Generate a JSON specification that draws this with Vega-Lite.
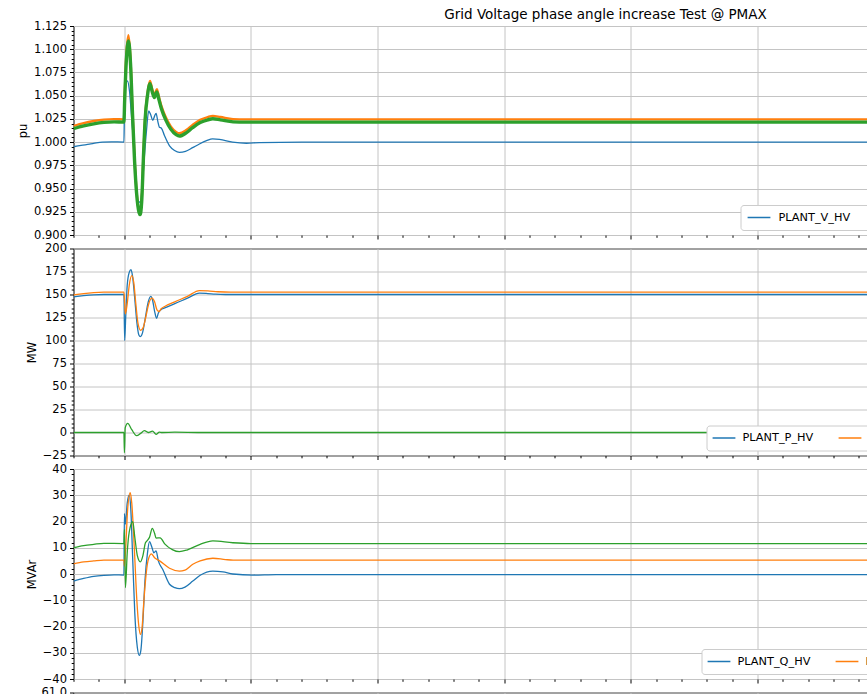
{
  "$schema": "https://vega.github.io/schema/vega-lite/v6.json",
  "padding": {"left": 16.5, "top": 7, "right": 0, "bottom": 0},
  "background": "white",
  "spacing": 0.5,
  "config": {
    "font": "DejaVu Sans",
    "view": {"stroke": "#000", "strokeWidth": 1},
    "axis": {"domain": false, "tickColor": "#000", "labelColor": "#000", "labelFontSize": 11.5, "labelFont": "DejaVu Sans", "titleFont": "DejaVu Sans", "titleFontSize": 11.5, "titleFontWeight": "normal", "titleColor": "#000", "gridColor": "#c4c4c4", "gridWidth": 1, "labelPadding": 3, "tickWidth": 1, "labelOverlap": false, "titlePadding": 5},
    "legend": {"orient": "bottom-right", "direction": "horizontal", "columns": 3, "offset": 5, "padding": 5, "strokeColor": "#cccccc", "fillColor": "#ffffff", "cornerRadius": 3, "labelFontSize": 11.3, "labelColor": "#000", "labelFont": "DejaVu Sans", "symbolType": "stroke", "symbolSize": 520, "symbolStrokeWidth": 1.3, "labelOffset": 6, "columnPadding": 24, "labelLimit": 400, "clipHeight": 15},
    "title": {"font": "DejaVu Sans", "fontSize": 13.5, "fontWeight": "normal", "color": "#000", "anchor": "middle"}
  },
  "resolve": {"scale": {"color": "independent", "strokeWidth": "independent", "y": "independent"}, "legend": {"color": "independent"}},
  "datasets": {
    "v": [
      {"t": -2, "y": 0.995, "s": "PLANT_V_HV"}, {"t": -1.7, "y": 0.9965, "s": "PLANT_V_HV"}, {"t": -1.37, "y": 0.9978, "s": "PLANT_V_HV"}, {"t": -1.1, "y": 0.9992, "s": "PLANT_V_HV"}, {"t": -0.86, "y": 1.0, "s": "PLANT_V_HV"}, {"t": -0.5, "y": 1.0003, "s": "PLANT_V_HV"}, {"t": -0.01, "y": 1.0, "s": "PLANT_V_HV"}, {"t": 0.01, "y": 1.035, "s": "PLANT_V_HV"}, {"t": 0.05, "y": 1.058, "s": "PLANT_V_HV"}, {"t": 0.13, "y": 1.066, "s": "PLANT_V_HV"}, {"t": 0.21, "y": 1.055, "s": "PLANT_V_HV"}, {"t": 0.31, "y": 1.02, "s": "PLANT_V_HV"}, {"t": 0.41, "y": 0.987, "s": "PLANT_V_HV"}, {"t": 0.49, "y": 0.95, "s": "PLANT_V_HV"}, {"t": 0.56, "y": 0.935, "s": "PLANT_V_HV"}, {"t": 0.64, "y": 0.936, "s": "PLANT_V_HV"}, {"t": 0.72, "y": 0.955, "s": "PLANT_V_HV"}, {"t": 0.8, "y": 0.985, "s": "PLANT_V_HV"}, {"t": 0.88, "y": 1.012, "s": "PLANT_V_HV"}, {"t": 0.97, "y": 1.0335, "s": "PLANT_V_HV"}, {"t": 1.04, "y": 1.03, "s": "PLANT_V_HV"}, {"t": 1.13, "y": 1.0235, "s": "PLANT_V_HV"}, {"t": 1.2, "y": 1.028, "s": "PLANT_V_HV"}, {"t": 1.26, "y": 1.031, "s": "PLANT_V_HV"}, {"t": 1.33, "y": 1.022, "s": "PLANT_V_HV"}, {"t": 1.39, "y": 1.016, "s": "PLANT_V_HV"}, {"t": 1.47, "y": 1.015, "s": "PLANT_V_HV"}, {"t": 1.59, "y": 1.007, "s": "PLANT_V_HV"}, {"t": 1.79, "y": 0.996, "s": "PLANT_V_HV"}, {"t": 1.99, "y": 0.991, "s": "PLANT_V_HV"}, {"t": 2.18, "y": 0.989, "s": "PLANT_V_HV"}, {"t": 2.42, "y": 0.99, "s": "PLANT_V_HV"}, {"t": 2.7, "y": 0.994, "s": "PLANT_V_HV"}, {"t": 2.97, "y": 0.998, "s": "PLANT_V_HV"}, {"t": 3.25, "y": 1.0015, "s": "PLANT_V_HV"}, {"t": 3.49, "y": 1.0035, "s": "PLANT_V_HV"}, {"t": 3.76, "y": 1.003, "s": "PLANT_V_HV"}, {"t": 4.28, "y": 1.0, "s": "PLANT_V_HV"}, {"t": 4.83, "y": 0.9988, "s": "PLANT_V_HV"}, {"t": 5.34, "y": 0.9995, "s": "PLANT_V_HV"}, {"t": 7, "y": 1.0, "s": "PLANT_V_HV"}, {"t": 40, "y": 1.0, "s": "PLANT_V_HV"},
      {"t": -2, "y": 1.0175, "s": "INV1_V_TERMS"}, {"t": -1.6, "y": 1.0205, "s": "INV1_V_TERMS"}, {"t": -1.2, "y": 1.0227, "s": "INV1_V_TERMS"}, {"t": -0.8, "y": 1.0242, "s": "INV1_V_TERMS"}, {"t": -0.4, "y": 1.0248, "s": "INV1_V_TERMS"}, {"t": -0.01, "y": 1.0245, "s": "INV1_V_TERMS"}, {"t": 0.02, "y": 1.05, "s": "INV1_V_TERMS"}, {"t": 0.08, "y": 1.092, "s": "INV1_V_TERMS"}, {"t": 0.17, "y": 1.115, "s": "INV1_V_TERMS"}, {"t": 0.25, "y": 1.09, "s": "INV1_V_TERMS"}, {"t": 0.33, "y": 1.033, "s": "INV1_V_TERMS"}, {"t": 0.41, "y": 0.983, "s": "INV1_V_TERMS"}, {"t": 0.49, "y": 0.947, "s": "INV1_V_TERMS"}, {"t": 0.59, "y": 0.925, "s": "INV1_V_TERMS"}, {"t": 0.63, "y": 0.923, "s": "INV1_V_TERMS"}, {"t": 0.69, "y": 0.937, "s": "INV1_V_TERMS"}, {"t": 0.77, "y": 0.993, "s": "INV1_V_TERMS"}, {"t": 0.83, "y": 1.028, "s": "INV1_V_TERMS"}, {"t": 0.92, "y": 1.053, "s": "INV1_V_TERMS"}, {"t": 1.02, "y": 1.066, "s": "INV1_V_TERMS"}, {"t": 1.1, "y": 1.058, "s": "INV1_V_TERMS"}, {"t": 1.19, "y": 1.051, "s": "INV1_V_TERMS"}, {"t": 1.29, "y": 1.057, "s": "INV1_V_TERMS"}, {"t": 1.37, "y": 1.049, "s": "INV1_V_TERMS"}, {"t": 1.47, "y": 1.039, "s": "INV1_V_TERMS"}, {"t": 1.64, "y": 1.027, "s": "INV1_V_TERMS"}, {"t": 1.84, "y": 1.017, "s": "INV1_V_TERMS"}, {"t": 2.05, "y": 1.011, "s": "INV1_V_TERMS"}, {"t": 2.18, "y": 1.0095, "s": "INV1_V_TERMS"}, {"t": 2.45, "y": 1.013, "s": "INV1_V_TERMS"}, {"t": 2.7, "y": 1.0185, "s": "INV1_V_TERMS"}, {"t": 3.0, "y": 1.024, "s": "INV1_V_TERMS"}, {"t": 3.3, "y": 1.027, "s": "INV1_V_TERMS"}, {"t": 3.5, "y": 1.0282, "s": "INV1_V_TERMS"}, {"t": 3.8, "y": 1.027, "s": "INV1_V_TERMS"}, {"t": 4.3, "y": 1.0248, "s": "INV1_V_TERMS"}, {"t": 4.8, "y": 1.0245, "s": "INV1_V_TERMS"}, {"t": 40, "y": 1.0245, "s": "INV1_V_TERMS"},
      {"t": -2, "y": 1.0145, "s": "INV2_V_TERM"}, {"t": -1.6, "y": 1.0175, "s": "INV2_V_TERM"}, {"t": -1.2, "y": 1.0197, "s": "INV2_V_TERM"}, {"t": -0.8, "y": 1.0212, "s": "INV2_V_TERM"}, {"t": -0.4, "y": 1.0218, "s": "INV2_V_TERM"}, {"t": -0.01, "y": 1.0215, "s": "INV2_V_TERM"}, {"t": 0.02, "y": 1.045, "s": "INV2_V_TERM"}, {"t": 0.08, "y": 1.085, "s": "INV2_V_TERM"}, {"t": 0.17, "y": 1.109, "s": "INV2_V_TERM"}, {"t": 0.25, "y": 1.085, "s": "INV2_V_TERM"}, {"t": 0.33, "y": 1.03, "s": "INV2_V_TERM"}, {"t": 0.41, "y": 0.98, "s": "INV2_V_TERM"}, {"t": 0.49, "y": 0.945, "s": "INV2_V_TERM"}, {"t": 0.59, "y": 0.924, "s": "INV2_V_TERM"}, {"t": 0.63, "y": 0.922, "s": "INV2_V_TERM"}, {"t": 0.69, "y": 0.935, "s": "INV2_V_TERM"}, {"t": 0.77, "y": 0.99, "s": "INV2_V_TERM"}, {"t": 0.83, "y": 1.025, "s": "INV2_V_TERM"}, {"t": 0.92, "y": 1.05, "s": "INV2_V_TERM"}, {"t": 1.02, "y": 1.063, "s": "INV2_V_TERM"}, {"t": 1.1, "y": 1.055, "s": "INV2_V_TERM"}, {"t": 1.19, "y": 1.048, "s": "INV2_V_TERM"}, {"t": 1.29, "y": 1.054, "s": "INV2_V_TERM"}, {"t": 1.37, "y": 1.046, "s": "INV2_V_TERM"}, {"t": 1.47, "y": 1.036, "s": "INV2_V_TERM"}, {"t": 1.64, "y": 1.024, "s": "INV2_V_TERM"}, {"t": 1.84, "y": 1.014, "s": "INV2_V_TERM"}, {"t": 2.05, "y": 1.008, "s": "INV2_V_TERM"}, {"t": 2.18, "y": 1.0065, "s": "INV2_V_TERM"}, {"t": 2.45, "y": 1.01, "s": "INV2_V_TERM"}, {"t": 2.7, "y": 1.0155, "s": "INV2_V_TERM"}, {"t": 3.0, "y": 1.021, "s": "INV2_V_TERM"}, {"t": 3.3, "y": 1.024, "s": "INV2_V_TERM"}, {"t": 3.5, "y": 1.0252, "s": "INV2_V_TERM"}, {"t": 3.8, "y": 1.024, "s": "INV2_V_TERM"}, {"t": 4.3, "y": 1.0218, "s": "INV2_V_TERM"}, {"t": 4.8, "y": 1.0215, "s": "INV2_V_TERM"}, {"t": 40, "y": 1.0215, "s": "INV2_V_TERM"}
    ],
    "p": [
      {"t": -2, "y": 147.5, "s": "PLANT_P_HV"}, {"t": -1.6, "y": 148.8, "s": "PLANT_P_HV"}, {"t": -1.2, "y": 149.7, "s": "PLANT_P_HV"}, {"t": -0.8, "y": 150, "s": "PLANT_P_HV"}, {"t": -0.01, "y": 150, "s": "PLANT_P_HV"}, {"t": 0.02, "y": 100, "s": "PLANT_P_HV"}, {"t": 0.06, "y": 125, "s": "PLANT_P_HV"}, {"t": 0.12, "y": 160, "s": "PLANT_P_HV"}, {"t": 0.2, "y": 174, "s": "PLANT_P_HV"}, {"t": 0.27, "y": 177, "s": "PLANT_P_HV"}, {"t": 0.33, "y": 170, "s": "PLANT_P_HV"}, {"t": 0.42, "y": 145, "s": "PLANT_P_HV"}, {"t": 0.5, "y": 120, "s": "PLANT_P_HV"}, {"t": 0.58, "y": 106, "s": "PLANT_P_HV"}, {"t": 0.64, "y": 104.3, "s": "PLANT_P_HV"}, {"t": 0.72, "y": 108, "s": "PLANT_P_HV"}, {"t": 0.82, "y": 122, "s": "PLANT_P_HV"}, {"t": 0.95, "y": 142, "s": "PLANT_P_HV"}, {"t": 1.05, "y": 148, "s": "PLANT_P_HV"}, {"t": 1.12, "y": 144, "s": "PLANT_P_HV"}, {"t": 1.2, "y": 132, "s": "PLANT_P_HV"}, {"t": 1.28, "y": 124, "s": "PLANT_P_HV"}, {"t": 1.35, "y": 130, "s": "PLANT_P_HV"}, {"t": 1.45, "y": 133.5, "s": "PLANT_P_HV"}, {"t": 1.6, "y": 135.5, "s": "PLANT_P_HV"}, {"t": 2.0, "y": 140, "s": "PLANT_P_HV"}, {"t": 2.5, "y": 146, "s": "PLANT_P_HV"}, {"t": 2.97, "y": 151.5, "s": "PLANT_P_HV"}, {"t": 3.3, "y": 151, "s": "PLANT_P_HV"}, {"t": 3.6, "y": 150.3, "s": "PLANT_P_HV"}, {"t": 4, "y": 150, "s": "PLANT_P_HV"}, {"t": 40, "y": 150, "s": "PLANT_P_HV"},
      {"t": -2, "y": 149.5, "s": "INV_P_TERM_MW"}, {"t": -1.6, "y": 151, "s": "INV_P_TERM_MW"}, {"t": -1.2, "y": 152, "s": "INV_P_TERM_MW"}, {"t": -0.8, "y": 152.5, "s": "INV_P_TERM_MW"}, {"t": -0.01, "y": 152.5, "s": "INV_P_TERM_MW"}, {"t": 0.02, "y": 140, "s": "INV_P_TERM_MW"}, {"t": 0.05, "y": 129, "s": "INV_P_TERM_MW"}, {"t": 0.12, "y": 140, "s": "INV_P_TERM_MW"}, {"t": 0.2, "y": 160, "s": "INV_P_TERM_MW"}, {"t": 0.3, "y": 170.5, "s": "INV_P_TERM_MW"}, {"t": 0.38, "y": 163, "s": "INV_P_TERM_MW"}, {"t": 0.46, "y": 140, "s": "INV_P_TERM_MW"}, {"t": 0.55, "y": 118, "s": "INV_P_TERM_MW"}, {"t": 0.65, "y": 111, "s": "INV_P_TERM_MW"}, {"t": 0.75, "y": 114, "s": "INV_P_TERM_MW"}, {"t": 0.85, "y": 125, "s": "INV_P_TERM_MW"}, {"t": 0.97, "y": 140, "s": "INV_P_TERM_MW"}, {"t": 1.1, "y": 146, "s": "INV_P_TERM_MW"}, {"t": 1.2, "y": 142, "s": "INV_P_TERM_MW"}, {"t": 1.3, "y": 133, "s": "INV_P_TERM_MW"}, {"t": 1.38, "y": 131.5, "s": "INV_P_TERM_MW"}, {"t": 1.46, "y": 134.5, "s": "INV_P_TERM_MW"}, {"t": 1.6, "y": 137, "s": "INV_P_TERM_MW"}, {"t": 2.0, "y": 142, "s": "INV_P_TERM_MW"}, {"t": 2.5, "y": 148, "s": "INV_P_TERM_MW"}, {"t": 2.97, "y": 154.3, "s": "INV_P_TERM_MW"}, {"t": 3.3, "y": 154, "s": "INV_P_TERM_MW"}, {"t": 3.7, "y": 153, "s": "INV_P_TERM_MW"}, {"t": 4.2, "y": 152.5, "s": "INV_P_TERM_MW"}, {"t": 40, "y": 152.5, "s": "INV_P_TERM_MW"},
      {"t": -2, "y": 0, "s": "P_DEVIATIONS_MW"}, {"t": -0.01, "y": 0, "s": "P_DEVIATIONS_MW"}, {"t": 0.01, "y": -22, "s": "P_DEVIATIONS_MW"}, {"t": 0.04, "y": 5, "s": "P_DEVIATIONS_MW"}, {"t": 0.14, "y": 10, "s": "P_DEVIATIONS_MW"}, {"t": 0.3, "y": 3, "s": "P_DEVIATIONS_MW"}, {"t": 0.49, "y": -3.4, "s": "P_DEVIATIONS_MW"}, {"t": 0.65, "y": -1, "s": "P_DEVIATIONS_MW"}, {"t": 0.8, "y": 2, "s": "P_DEVIATIONS_MW"}, {"t": 0.95, "y": 0, "s": "P_DEVIATIONS_MW"}, {"t": 1.12, "y": 1.5, "s": "P_DEVIATIONS_MW"}, {"t": 1.26, "y": -2, "s": "P_DEVIATIONS_MW"}, {"t": 1.39, "y": 0.5, "s": "P_DEVIATIONS_MW"}, {"t": 1.5, "y": 0, "s": "P_DEVIATIONS_MW"}, {"t": 2, "y": 0.3, "s": "P_DEVIATIONS_MW"}, {"t": 3, "y": 0, "s": "P_DEVIATIONS_MW"}, {"t": 40, "y": 0, "s": "P_DEVIATIONS_MW"}
    ],
    "q": [
      {"t": -2, "y": -2.7, "s": "PLANT_Q_HV"}, {"t": -1.6, "y": -1.7, "s": "PLANT_Q_HV"}, {"t": -1.2, "y": -0.9, "s": "PLANT_Q_HV"}, {"t": -0.8, "y": -0.5, "s": "PLANT_Q_HV"}, {"t": -0.4, "y": -0.3, "s": "PLANT_Q_HV"}, {"t": -0.01, "y": -0.4, "s": "PLANT_Q_HV"}, {"t": 0.01, "y": 23, "s": "PLANT_Q_HV"}, {"t": 0.05, "y": 19, "s": "PLANT_Q_HV"}, {"t": 0.12, "y": 27, "s": "PLANT_Q_HV"}, {"t": 0.2, "y": 30, "s": "PLANT_Q_HV"}, {"t": 0.26, "y": 25, "s": "PLANT_Q_HV"}, {"t": 0.34, "y": 5, "s": "PLANT_Q_HV"}, {"t": 0.42, "y": -15, "s": "PLANT_Q_HV"}, {"t": 0.52, "y": -28, "s": "PLANT_Q_HV"}, {"t": 0.6, "y": -31, "s": "PLANT_Q_HV"}, {"t": 0.66, "y": -29, "s": "PLANT_Q_HV"}, {"t": 0.74, "y": -18, "s": "PLANT_Q_HV"}, {"t": 0.82, "y": -2.7, "s": "PLANT_Q_HV"}, {"t": 0.92, "y": 8, "s": "PLANT_Q_HV"}, {"t": 1.0, "y": 12.3, "s": "PLANT_Q_HV"}, {"t": 1.1, "y": 10, "s": "PLANT_Q_HV"}, {"t": 1.17, "y": 8.1, "s": "PLANT_Q_HV"}, {"t": 1.26, "y": 8.8, "s": "PLANT_Q_HV"}, {"t": 1.35, "y": 5, "s": "PLANT_Q_HV"}, {"t": 1.52, "y": 1.8, "s": "PLANT_Q_HV"}, {"t": 1.79, "y": -3.9, "s": "PLANT_Q_HV"}, {"t": 2.0, "y": -5.2, "s": "PLANT_Q_HV"}, {"t": 2.18, "y": -5.6, "s": "PLANT_Q_HV"}, {"t": 2.4, "y": -5, "s": "PLANT_Q_HV"}, {"t": 2.71, "y": -2.7, "s": "PLANT_Q_HV"}, {"t": 3.0, "y": -0.5, "s": "PLANT_Q_HV"}, {"t": 3.5, "y": 1.1, "s": "PLANT_Q_HV"}, {"t": 3.9, "y": 0.8, "s": "PLANT_Q_HV"}, {"t": 4.29, "y": 0.0, "s": "PLANT_Q_HV"}, {"t": 5.08, "y": -0.4, "s": "PLANT_Q_HV"}, {"t": 6, "y": -0.2, "s": "PLANT_Q_HV"}, {"t": 40, "y": -0.2, "s": "PLANT_Q_HV"},
      {"t": -2, "y": 3.9, "s": "INV_Q_TERM_MVAR"}, {"t": -1.6, "y": 4.6, "s": "INV_Q_TERM_MVAR"}, {"t": -1.2, "y": 5.0, "s": "INV_Q_TERM_MVAR"}, {"t": -0.8, "y": 5.3, "s": "INV_Q_TERM_MVAR"}, {"t": -0.01, "y": 5.3, "s": "INV_Q_TERM_MVAR"}, {"t": 0.01, "y": 3, "s": "INV_Q_TERM_MVAR"}, {"t": 0.06, "y": 10, "s": "INV_Q_TERM_MVAR"}, {"t": 0.14, "y": 25, "s": "INV_Q_TERM_MVAR"}, {"t": 0.24, "y": 31, "s": "INV_Q_TERM_MVAR"}, {"t": 0.3, "y": 27, "s": "INV_Q_TERM_MVAR"}, {"t": 0.4, "y": 10, "s": "INV_Q_TERM_MVAR"}, {"t": 0.5, "y": -10, "s": "INV_Q_TERM_MVAR"}, {"t": 0.58, "y": -20, "s": "INV_Q_TERM_MVAR"}, {"t": 0.64, "y": -23, "s": "INV_Q_TERM_MVAR"}, {"t": 0.7, "y": -21, "s": "INV_Q_TERM_MVAR"}, {"t": 0.78, "y": -10, "s": "INV_Q_TERM_MVAR"}, {"t": 0.84, "y": -2.7, "s": "INV_Q_TERM_MVAR"}, {"t": 0.94, "y": 5, "s": "INV_Q_TERM_MVAR"}, {"t": 1.07, "y": 7.7, "s": "INV_Q_TERM_MVAR"}, {"t": 1.2, "y": 6.2, "s": "INV_Q_TERM_MVAR"}, {"t": 1.4, "y": 5, "s": "INV_Q_TERM_MVAR"}, {"t": 1.79, "y": 2.2, "s": "INV_Q_TERM_MVAR"}, {"t": 2.18, "y": 1.1, "s": "INV_Q_TERM_MVAR"}, {"t": 2.4, "y": 1.5, "s": "INV_Q_TERM_MVAR"}, {"t": 2.71, "y": 3.7, "s": "INV_Q_TERM_MVAR"}, {"t": 3.0, "y": 5, "s": "INV_Q_TERM_MVAR"}, {"t": 3.5, "y": 6.0, "s": "INV_Q_TERM_MVAR"}, {"t": 4.0, "y": 5.5, "s": "INV_Q_TERM_MVAR"}, {"t": 4.3, "y": 5.3, "s": "INV_Q_TERM_MVAR"}, {"t": 40, "y": 5.3, "s": "INV_Q_TERM_MVAR"},
      {"t": -2, "y": 10.0, "s": "STATCOM_Q_POC"}, {"t": -1.6, "y": 10.8, "s": "STATCOM_Q_POC"}, {"t": -1.2, "y": 11.3, "s": "STATCOM_Q_POC"}, {"t": -0.8, "y": 11.7, "s": "STATCOM_Q_POC"}, {"t": -0.01, "y": 11.6, "s": "STATCOM_Q_POC"}, {"t": 0.01, "y": 17, "s": "STATCOM_Q_POC"}, {"t": 0.05, "y": -5.2, "s": "STATCOM_Q_POC"}, {"t": 0.12, "y": 8, "s": "STATCOM_Q_POC"}, {"t": 0.2, "y": 16, "s": "STATCOM_Q_POC"}, {"t": 0.34, "y": 19.9, "s": "STATCOM_Q_POC"}, {"t": 0.42, "y": 14, "s": "STATCOM_Q_POC"}, {"t": 0.52, "y": 7, "s": "STATCOM_Q_POC"}, {"t": 0.64, "y": 4.6, "s": "STATCOM_Q_POC"}, {"t": 0.74, "y": 7, "s": "STATCOM_Q_POC"}, {"t": 0.84, "y": 11.9, "s": "STATCOM_Q_POC"}, {"t": 0.9, "y": 12.6, "s": "STATCOM_Q_POC"}, {"t": 1.0, "y": 14, "s": "STATCOM_Q_POC"}, {"t": 1.11, "y": 17.4, "s": "STATCOM_Q_POC"}, {"t": 1.2, "y": 15.5, "s": "STATCOM_Q_POC"}, {"t": 1.26, "y": 13.7, "s": "STATCOM_Q_POC"}, {"t": 1.42, "y": 13.8, "s": "STATCOM_Q_POC"}, {"t": 1.6, "y": 11.5, "s": "STATCOM_Q_POC"}, {"t": 1.9, "y": 9.3, "s": "STATCOM_Q_POC"}, {"t": 2.18, "y": 8.5, "s": "STATCOM_Q_POC"}, {"t": 2.5, "y": 9.2, "s": "STATCOM_Q_POC"}, {"t": 3.0, "y": 11.3, "s": "STATCOM_Q_POC"}, {"t": 3.5, "y": 12.6, "s": "STATCOM_Q_POC"}, {"t": 4.29, "y": 11.9, "s": "STATCOM_Q_POC"}, {"t": 5, "y": 11.6, "s": "STATCOM_Q_POC"}, {"t": 40, "y": 11.6, "s": "STATCOM_Q_POC"}
    ],
    "f": [
      {"t": -2, "y": 60.0, "s": "PLANT_F_HV"}, {"t": 40, "y": 60.0, "s": "PLANT_F_HV"}
    ]
  },
  "vconcat": [
    {
      "title": {"text": "Grid Voltage phase angle increase Test @ PMAX", "offset": -1},
      "width": 1064, "height": 209,
      "data": {"name": "v"},
      "mark": {"type": "line", "interpolate": "monotone", "clip": true},
      "encoding": {
        "x": {"field": "t", "type": "quantitative", "scale": {"domain": [-2, 40], "nice": false, "zero": false},
          "axis": {"values": [-2,-1,0,1,2,3,4,5,6,7,8,9,10,11,12,13,14,15,16,17,18,19,20,21,22,23,24,25,26,27,28,29,30,31,32,33,34,35,36,37,38,39,40], "labels": false, "title": null, "gridOpacity": {"condition": {"test": "datum.value % 5 === 0", "value": 1}, "value": 0}, "tickSize": {"condition": {"test": "datum.value % 5 === 0", "value": 4}, "value": 2.3}}},
        "y": {"field": "y", "type": "quantitative", "scale": {"domain": [0.9, 1.125], "nice": false, "zero": false},
          "axis": {"title": "pu", "values": [0.9,0.905,0.91,0.915,0.92,0.925,0.93,0.935,0.94,0.945,0.95,0.955,0.96,0.965,0.97,0.975,0.98,0.985,0.99,0.995,1.0,1.005,1.01,1.015,1.02,1.025,1.03,1.035,1.04,1.045,1.05,1.055,1.06,1.065,1.07,1.075,1.08,1.085,1.09,1.095,1.1,1.105,1.11,1.115,1.12,1.125],
            "labelExpr": "abs(datum.value*40 - round(datum.value*40)) < 0.000001 ? format(datum.value, '.3f') : ''",
            "gridOpacity": {"condition": {"test": "abs(datum.value*40 - round(datum.value*40)) < 0.000001", "value": 1}, "value": 0},
            "tickSize": {"condition": {"test": "abs(datum.value*40 - round(datum.value*40)) < 0.000001", "value": 4}, "value": 2.3}}},
        "color": {"field": "s", "type": "nominal", "scale": {"domain": ["PLANT_V_HV", "INV1_V_TERMS", "INV2_V_TERM"], "range": ["#1f77b4", "#ff7f0e", "#2ca02c"]}, "legend": {"title": null}},
        "strokeWidth": {"field": "s", "type": "ordinal", "scale": {"domain": ["PLANT_V_HV", "INV1_V_TERMS", "INV2_V_TERM"], "range": [1.3, 3.4, 2.8]}, "legend": null}
      }
    },
    {
      "width": 1064, "height": 207,
      "data": {"name": "p"},
      "mark": {"type": "line", "interpolate": "monotone", "clip": true, "strokeWidth": 1.3},
      "encoding": {
        "x": {"field": "t", "type": "quantitative", "scale": {"domain": [-2, 40], "nice": false, "zero": false},
          "axis": {"values": [-2,-1,0,1,2,3,4,5,6,7,8,9,10,11,12,13,14,15,16,17,18,19,20,21,22,23,24,25,26,27,28,29,30,31,32,33,34,35,36,37,38,39,40], "labels": false, "title": null, "gridOpacity": {"condition": {"test": "datum.value % 5 === 0", "value": 1}, "value": 0}, "tickSize": {"condition": {"test": "datum.value % 5 === 0", "value": 4}, "value": 2.3}}},
        "y": {"field": "y", "type": "quantitative", "scale": {"domain": [-25, 200], "nice": false, "zero": false},
          "axis": {"title": "MW", "values": [-25,-20,-15,-10,-5,0,5,10,15,20,25,30,35,40,45,50,55,60,65,70,75,80,85,90,95,100,105,110,115,120,125,130,135,140,145,150,155,160,165,170,175,180,185,190,195,200],
            "labelExpr": "datum.value % 25 === 0 ? format(datum.value, 'd') : ''",
            "gridOpacity": {"condition": {"test": "datum.value % 25 === 0", "value": 1}, "value": 0},
            "tickSize": {"condition": {"test": "datum.value % 25 === 0", "value": 4}, "value": 2.3}}},
        "color": {"field": "s", "type": "nominal", "scale": {"domain": ["PLANT_P_HV", "INV_P_TERM_MW", "P_DEVIATIONS_MW"], "range": ["#1f77b4", "#ff7f0e", "#2ca02c"]}, "legend": {"title": null}}
      }
    },
    {
      "width": 1064, "height": 210,
      "data": {"name": "q"},
      "mark": {"type": "line", "interpolate": "monotone", "clip": true, "strokeWidth": 1.3},
      "encoding": {
        "x": {"field": "t", "type": "quantitative", "scale": {"domain": [-2, 40], "nice": false, "zero": false},
          "axis": {"values": [-2,-1,0,1,2,3,4,5,6,7,8,9,10,11,12,13,14,15,16,17,18,19,20,21,22,23,24,25,26,27,28,29,30,31,32,33,34,35,36,37,38,39,40], "labels": false, "title": null, "gridOpacity": {"condition": {"test": "datum.value % 5 === 0", "value": 1}, "value": 0}, "tickSize": {"condition": {"test": "datum.value % 5 === 0", "value": 4}, "value": 2.3}}},
        "y": {"field": "y", "type": "quantitative", "scale": {"domain": [-40, 40], "nice": false, "zero": false},
          "axis": {"title": "MVAr", "values": [-40,-38,-36,-34,-32,-30,-28,-26,-24,-22,-20,-18,-16,-14,-12,-10,-8,-6,-4,-2,0,2,4,6,8,10,12,14,16,18,20,22,24,26,28,30,32,34,36,38,40],
            "labelExpr": "datum.value % 10 === 0 ? format(datum.value, 'd') : ''",
            "gridOpacity": {"condition": {"test": "datum.value % 10 === 0", "value": 1}, "value": 0},
            "tickSize": {"condition": {"test": "datum.value % 10 === 0", "value": 4}, "value": 2.3}}},
        "color": {"field": "s", "type": "nominal", "scale": {"domain": ["PLANT_Q_HV", "INV_Q_TERM_MVAR", "STATCOM_Q_POC"], "range": ["#1f77b4", "#ff7f0e", "#2ca02c"]}, "legend": {"title": null}}
      }
    },
    {
      "width": 1064, "height": 209,
      "data": {"name": "f"},
      "mark": {"type": "line", "clip": true, "strokeWidth": 1.3},
      "encoding": {
        "x": {"field": "t", "type": "quantitative", "scale": {"domain": [-2, 40], "nice": false, "zero": false},
          "axis": {"values": [-2,-1,0,1,2,3,4,5,6,7,8,9,10,11,12,13,14,15,16,17,18,19,20,21,22,23,24,25,26,27,28,29,30,31,32,33,34,35,36,37,38,39,40], "labels": false, "title": null, "gridOpacity": {"condition": {"test": "datum.value % 5 === 0", "value": 1}, "value": 0}, "tickSize": {"condition": {"test": "datum.value % 5 === 0", "value": 4}, "value": 2.3}}},
        "y": {"field": "y", "type": "quantitative", "scale": {"domain": [59, 61], "nice": false, "zero": false},
          "axis": {"title": "Hz", "values": [59, 59.5, 60, 60.5, 61], "format": ".1f", "tickSize": 4}},
        "color": {"field": "s", "type": "nominal", "scale": {"domain": ["PLANT_F_HV"], "range": ["#1f77b4"]}, "legend": {"title": null}}
      }
    }
  ]
}
